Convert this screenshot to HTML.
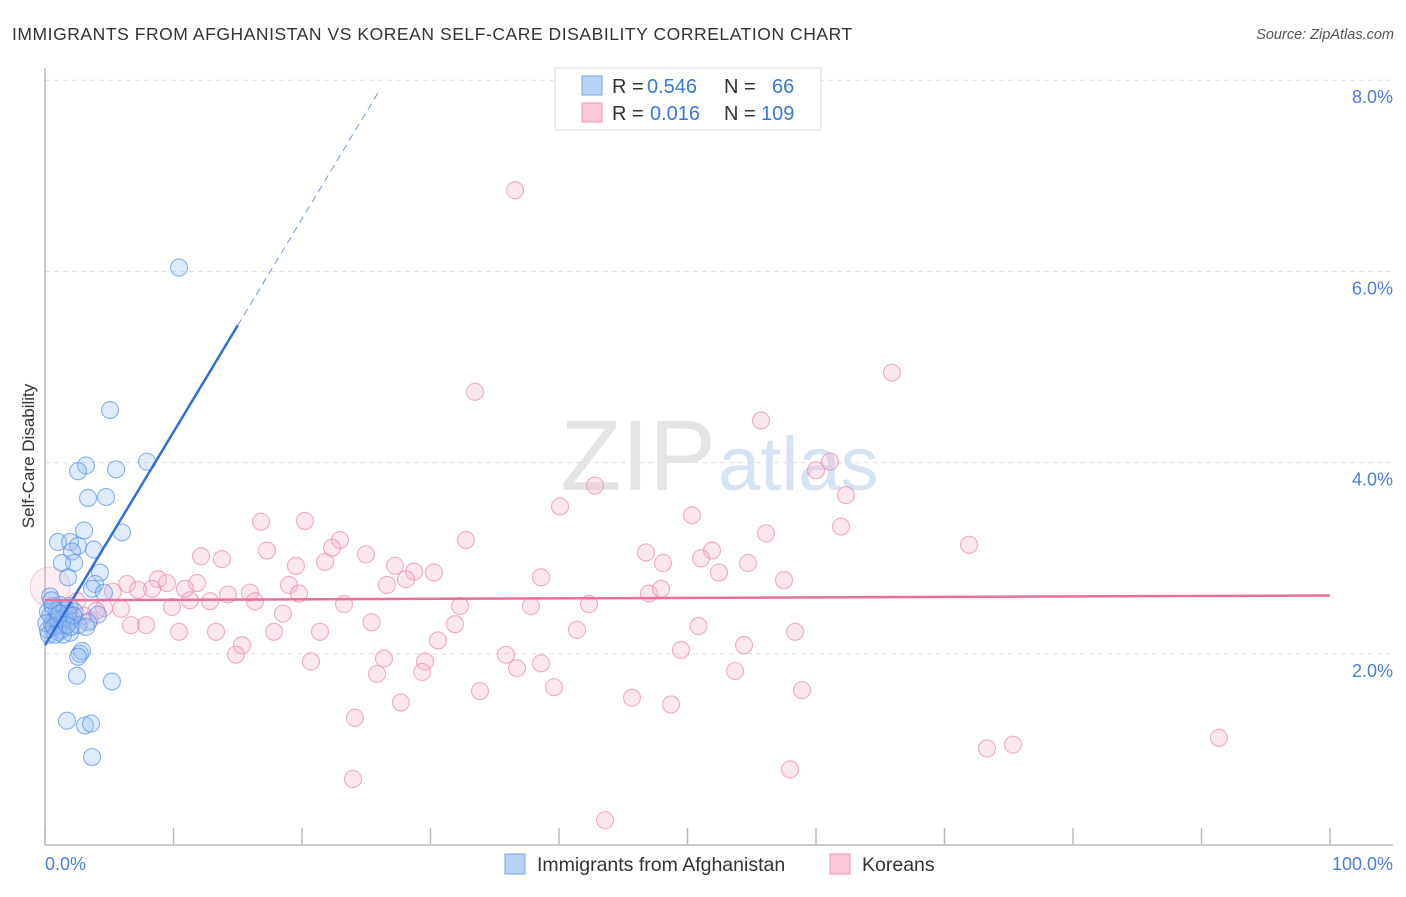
<!DOCTYPE html>
<html><head><meta charset="utf-8"><style>
body{margin:0;background:#fff;font-family:"Liberation Sans",sans-serif}
svg text{font-family:"Liberation Sans",sans-serif}
</style></head><body>
<svg width="1406" height="892" viewBox="0 0 1406 892">
<text x="12" y="40" font-size="17.5" fill="#333" letter-spacing="0.55">IMMIGRANTS FROM AFGHANISTAN VS KOREAN SELF-CARE DISABILITY CORRELATION CHART</text>
<text x="1394" y="39" font-size="14.5" fill="#555" font-style="italic" text-anchor="end">Source: ZipAtlas.com</text>
<g id="grid"></g>
<text x="716" y="490" font-size="100" fill="#e4e4e4" text-anchor="end" font-family="Liberation Serif">ZIP</text>
<text x="718" y="490" font-size="76" fill="#d5e3f3">atlas</text>
<line x1="45" y1="68" x2="45" y2="845" stroke="#bbb" stroke-width="1.5"/>
<line x1="45" y1="845" x2="1393" y2="845" stroke="#bbb" stroke-width="1.5"/>
<g id="ticks"></g>
<text transform="translate(34,456) rotate(-90)" font-size="17" fill="#333" text-anchor="middle">Self-Care Disability</text>
<text x="45" y="870" font-size="18" fill="#4a7fd6">0.0%</text>
<text x="1393" y="870" font-size="18" fill="#4a7fd6" text-anchor="end">100.0%</text>
<g id="pts"></g>
<g id="lines"></g>
<g>
<rect x="555" y="68" width="266" height="62" fill="#fff" stroke="#ddd"/>
<rect x="582" y="76" width="20" height="19" fill="#b8d2f5" stroke="#7aa6e6"/>
<rect x="582" y="103" width="20" height="19" fill="#fbc8d8" stroke="#ec98b4"/>
<text x="612" y="93" font-size="20" fill="#333">R = <tspan fill="#3a78d6" x="647">0.546</tspan></text>
<text x="724" y="93" font-size="20" fill="#333">N = <tspan fill="#3a78d6" x="772">66</tspan></text>
<text x="612" y="120" font-size="20" fill="#333">R = <tspan fill="#3a78d6" x="650">0.016</tspan></text>
<text x="724" y="120" font-size="20" fill="#333">N = <tspan fill="#3a78d6" x="761">109</tspan></text>
</g>
<g>
<rect x="505" y="854" width="20" height="20" fill="#b8d2f5" stroke="#7aa6e6"/>
<text x="537" y="871" font-size="19.5" fill="#333">Immigrants from Afghanistan</text>
<rect x="830" y="854" width="20" height="20" fill="#fbc8d8" stroke="#ec98b4"/>
<text x="862" y="871" font-size="19.5" fill="#333">Koreans</text>
</g>
</svg>
<script>
const yTicks=[2,4,6,8];
const yTickLabels=["2.0%","4.0%","6.0%","8.0%"];
const xTicks=[0,10,20,30,40,50,60,70,80,90,100];
const blueX=[10.43,5.06,7.94,3.19,2.57,5.53,3.35,4.75,3.04,5.99,1.01,1.95,2.57,2.10,3.81,2.26,1.32,4.28,1.79,3.89,3.66,4.59,0.39,1.17,1.56,4.12,0.23,0.78,1.95,3.35,0.54,1.32,1.95,1.01,2.72,2.88,2.57,0.23,2.49,5.21,1.71,3.11,3.58,3.66,0.4,0.9,1.6,1.2,0.1,1.5,2.3,0.6,1.9,2.6,1.0,0.3,1.4,2.0,0.7,1.8,0.5,2.2,1.1,3.2,0.8,1.7];
const blueY=[6.04,4.55,4.01,3.97,3.91,3.93,3.63,3.64,3.29,3.27,3.17,3.17,3.13,3.07,3.09,2.95,2.95,2.85,2.80,2.73,2.68,2.64,2.60,2.51,2.48,2.41,2.44,2.37,2.35,2.33,2.30,2.25,2.22,2.23,2.00,2.03,1.97,2.25,1.77,1.71,1.30,1.25,1.27,0.92,2.4,2.45,2.35,2.3,2.32,2.38,2.44,2.5,2.5,2.3,2.36,2.2,2.2,2.28,2.28,2.42,2.56,2.4,2.42,2.28,2.2,2.3];
const pinkX=[36.58,33.46,65.91,55.72,61.09,60.0,62.33,42.8,40.08,50.35,61.95,56.11,16.81,20.23,32.76,22.96,22.33,71.91,17.28,12.14,13.77,24.98,46.77,51.91,51.05,48.09,21.79,19.53,27.24,28.72,30.27,28.09,52.45,54.71,38.6,57.51,6.38,8.79,9.49,11.83,10.89,8.33,7.24,5.29,18.99,15.95,19.77,26.61,14.24,11.28,9.88,12.84,16.34,23.27,32.3,37.82,42.33,47.0,47.94,18.52,5.91,4.59,25.41,31.91,6.69,7.86,50.86,10.43,13.31,17.82,21.4,41.4,58.37,30.58,15.33,54.4,14.86,35.87,49.49,20.7,26.38,29.57,38.6,36.73,29.35,25.84,53.7,39.61,33.85,58.91,45.68,48.72,27.7,24.12,73.31,75.33,91.36,57.98,23.97,43.58,1.5,2.0,3.0,1.0,4.0,2.5,0.7,3.5,1.8];
const pinkY=[6.85,4.74,4.94,4.44,4.01,3.92,3.66,3.76,3.54,3.45,3.33,3.26,3.38,3.39,3.19,3.19,3.11,3.14,3.08,3.02,2.99,3.04,3.06,3.08,3.0,2.95,2.96,2.92,2.92,2.86,2.85,2.78,2.85,2.95,2.80,2.77,2.73,2.78,2.74,2.74,2.68,2.68,2.67,2.65,2.72,2.64,2.63,2.72,2.62,2.56,2.49,2.55,2.55,2.52,2.50,2.50,2.52,2.63,2.68,2.42,2.47,2.48,2.33,2.31,2.30,2.30,2.29,2.23,2.23,2.23,2.23,2.25,2.23,2.14,2.09,2.09,1.99,1.99,2.04,1.92,1.95,1.92,1.90,1.85,1.81,1.79,1.82,1.65,1.61,1.62,1.54,1.47,1.49,1.33,1.01,1.05,1.12,0.79,0.69,0.26,2.45,2.4,2.4,2.35,2.45,2.55,2.3,2.35,2.42];
const blueTrend=[2.09,0.223];
const pinkTrend=[2.56,0.0005];
const NS='http://www.w3.org/2000/svg';
const X=v=>45+v*12.85, Y=v=>845-v*95.6;
function mk(tag,at,parent){const e=document.createElementNS(NS,tag);for(const k in at)e.setAttribute(k,at[k]);document.getElementById(parent).appendChild(e);return e;}
yTicks.forEach((t,i)=>{
 const l=mk('line',{x1:45,x2:1393,y1:Y(t),y2:Y(t),stroke:'#ddd','stroke-dasharray':'5,4'},'grid');
 
 
 const tx=mk('text',{x:1393,y:Y(t)+23,'font-size':18,fill:'#4a7fd6','text-anchor':'end'},'grid');
 tx.textContent=yTickLabels[i];
 
 
});
xTicks.forEach(t=>{
 const l=mk('line',{x1:X(t),x2:X(t),y1:845,y2:828,stroke:'#bbb','stroke-width':1.5},'ticks');
 
 
});
const bc=mk('circle',{cx:X(0.4),cy:Y(2.7),r:20,fill:'rgba(245,170,195,0.2)',stroke:'rgba(232,140,170,0.45)'},'pts');


pinkX.forEach((x,i)=>{
 const c=mk('circle',{cx:X(x),cy:Y(pinkY[i]),r:8.5,fill:'rgba(248,175,200,0.3)',stroke:'rgba(232,140,170,0.7)','stroke-width':1.1},'pts');
 
 
});
blueX.forEach((x,i)=>{
 const c=mk('circle',{cx:X(x),cy:Y(blueY[i]),r:8.5,fill:'rgba(150,190,245,0.3)',stroke:'rgba(80,140,225,0.65)','stroke-width':1.1},'pts');
 
 
});
const bf=v=>blueTrend[0]+blueTrend[1]*v, pf=v=>pinkTrend[0]+pinkTrend[1]*v;
let l1=mk('line',{x1:X(0),y1:Y(bf(0)),x2:X(15),y2:Y(bf(15)),stroke:'#2f6fd6','stroke-width':2.5},'lines');


let l2=mk('line',{x1:X(15),y1:Y(bf(15)),x2:X(26.1),y2:Y(bf(26.1)),stroke:'#6a98e0','stroke-width':1,'stroke-dasharray':'7,5'},'lines');


let l3=mk('line',{x1:X(0),y1:Y(pf(0)),x2:X(100),y2:Y(pf(100)),stroke:'#e8709a','stroke-width':2.5},'lines');


</script>
</body></html>
